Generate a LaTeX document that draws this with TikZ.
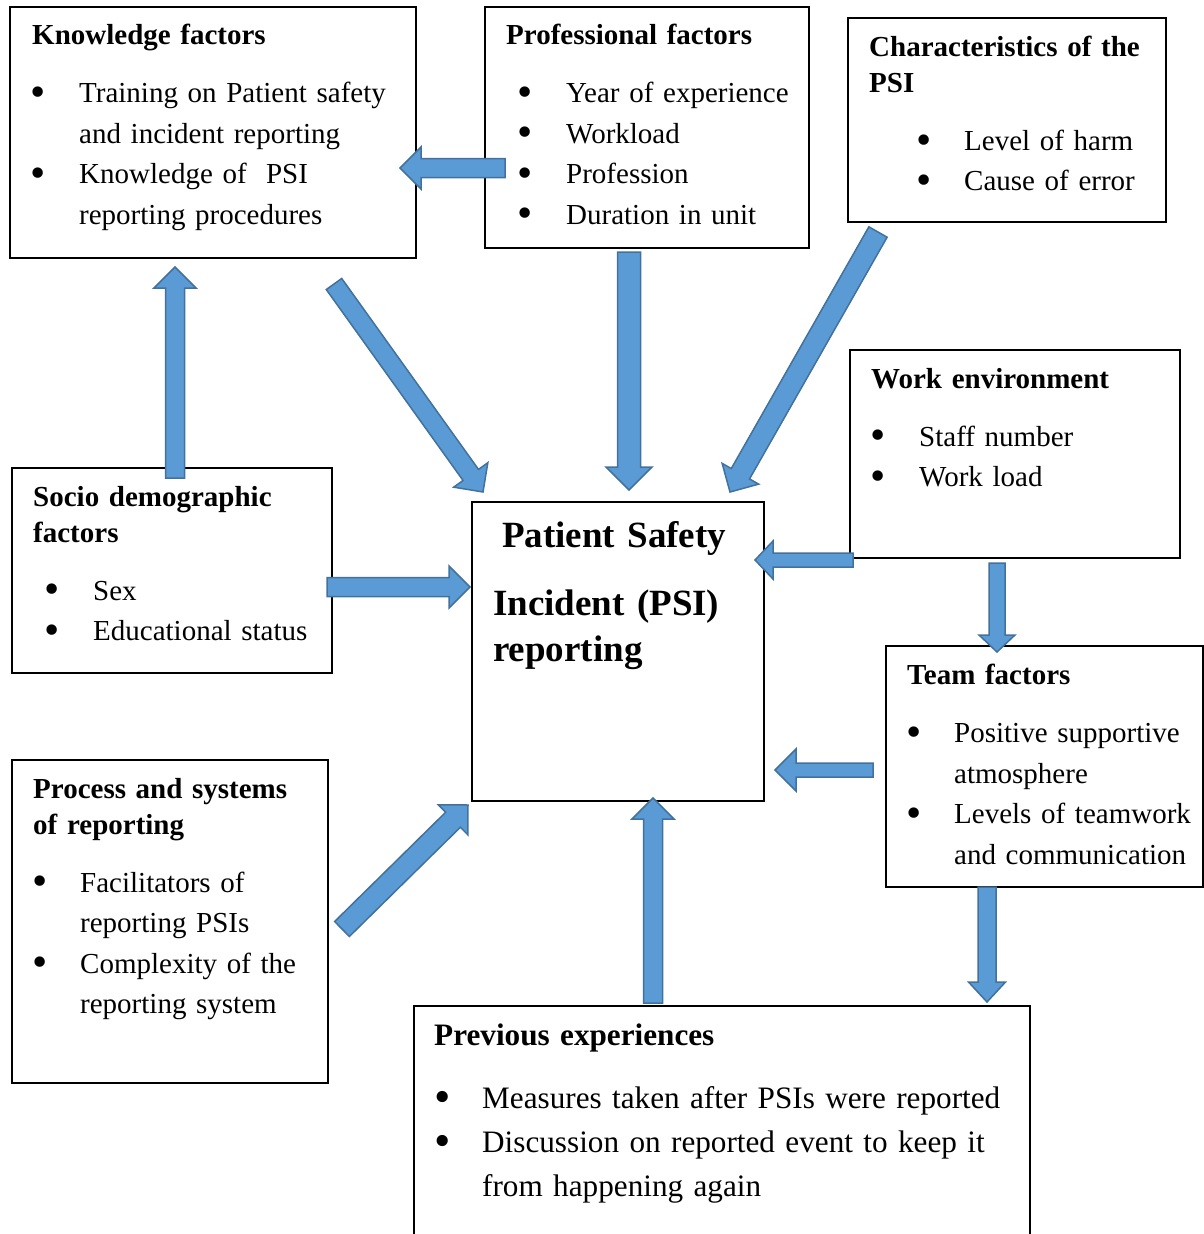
\documentclass[tikz,border=0pt]{standalone}
\usepackage{fontspec}
\setmainfont{Liberation Serif}
\usetikzlibrary{calc}

\definecolor{arrowfill}{HTML}{5B9BD5}
\definecolor{arrowline}{HTML}{41719C}

% heading of a factor box, bullet item (bullet offset, text offset, text), continued line
\newcommand{\hd}[1]{{\bfseries\baselineskip=1.24em\noindent\rule{0pt}{0.69em}#1\par}\vspace{0.6em}}
\newcommand{\bul}{\raisebox{-0.13em}{\scalebox{1.5}{\textbullet}}}
\newcommand{\li}[3]{\par\noindent\makebox[#2pt][l]{\hspace*{#1pt}\hspace*{-1.5pt}\bul}#3}
\newcommand{\lc}[2]{\par\noindent\hspace*{#1pt}#2}
% block arrow from tail to tip
\newcommand{\barrow}[3][]{%
  \path[blockarrow,#1] let \p1=#2, \p2=#3, \p3=($(\p2)!\alen!(\p1)$) in
    ($(\p1)!\ashaft!90:(\p2)$) -- ($(\p3)!\ashaft!90:(\p2)$) -- ($(\p3)!\ahead!90:(\p2)$) -- (\p2)
    -- ($(\p3)!\ahead!-90:(\p2)$) -- ($(\p3)!\ashaft!-90:(\p2)$) -- ($(\p1)!\ashaft!-90:(\p2)$) -- cycle;}

\begin{document}
\begin{tikzpicture}[x=1pt,y=-1pt]
  \tikzset{factor/.style={draw,line width=1.8pt,anchor=north west,outer sep=0pt,inner sep=0pt},
    txt/.style={anchor=north west,inner sep=0pt,text width=640pt,align=left,font=\fontsize{29}{40.5}\selectfont},
    ashaft/.store in=\ashaft, ahead/.store in=\ahead, alen/.store in=\alen,
    blockarrow/.style={draw=arrowline,fill=arrowfill,line width=1.5pt,line join=miter,
      ashaft=9.5pt,ahead=21pt,alen=21pt}}
  \clip (0,0) rectangle (1204,1234);

  % boxes
  \node[factor,minimum width=406,minimum height=251] (know)  at (10,7)    {};
  \node[factor,minimum width=324,minimum height=241] (prof)  at (485,7)   {};
  \node[factor,minimum width=318,minimum height=204] (chars) at (848,18)  {};
  \node[factor,minimum width=330,minimum height=208] (work)  at (850,350) {};
  \node[factor,minimum width=320,minimum height=205] (socio) at (12,468)  {};
  \node[factor,minimum width=292,minimum height=299] (psi)   at (472,502) {};
  \node[factor,minimum width=317,minimum height=241] (team)  at (886,646) {};
  \node[factor,minimum width=316,minimum height=323] (proc)  at (12,760)  {};
  \node[factor,minimum width=616,minimum height=260] (prev)  at (414,1006) {};

  % texts
  \node[txt] (knowtxt) at (32,24) {\hd{Knowledge factors}
    \li{0}{47}{Training on Patient safety}\lc{47}{and incident reporting}
    \li{0}{47}{Knowledge of\ \ PSI}\lc{47}{reporting procedures}};
  \node[txt] (proftxt) at (506,24) {\hd{Professional factors}
    \li{13}{60}{Year of experience}\li{13}{60}{Workload}
    \li{13}{60}{Profession}\li{13}{60}{Duration in unit}};
  \node[txt] (charstxt) at (869,36) {\hd{Characteristics of the\newline PSI}
    \li{49}{95}{Level of harm}\li{49}{95}{Cause of error}};
  \node[txt] (worktxt) at (871,368) {\hd{Work environment}
    \li{1}{48}{Staff number}\li{1}{48}{Work load}};
  \node[txt] (sociotxt) at (33,486) {\hd{Socio demographic\newline factors}
    \li{13}{60}{Sex}\li{13}{60}{Educational status}};
  \node[txt] (teamtxt) at (907,664) {\hd{Team factors}
    \li{1}{47}{Positive supportive}\lc{47}{atmosphere}
    \li{1}{47}{Levels of teamwork}\lc{47}{and communication}};
  \node[txt] (proctxt) at (33,778) {\hd{Process and systems\newline of reporting}
    \li{1}{47}{Facilitators of}\lc{47}{reporting PSIs}
    \li{1}{47}{Complexity of the}\lc{47}{reporting system}};
  \node[txt,font=\fontsize{31.2}{44}\selectfont] (prevtxt) at (434,1024) {\hd{Previous experiences}
    \li{2}{48}{Measures taken after PSIs were reported}
    \li{2}{48}{Discussion on reported event to keep it}\lc{48}{from happening again}};
  \node[txt,text width=280pt,font=\fontsize{37}{46}\selectfont\bfseries] (psitxt) at (493,521)
    {\noindent\rule{0pt}{26pt}\hspace*{9pt}Patient Safety\\[22pt]Incident (PSI)\\reporting};

  % arrows
  \barrow{([shift={(20,40.5)}]prof.west)}{([shift={(-16,35.5)}]know.east)}
  \barrow[ashaft=11.5pt,ahead=23pt,alen=23pt]{([shift={(-18,4)}]prof.south)}{([shift={(11,-12)}]psi.north)}
  \barrow{([shift={(-82,26)}]know.south east)}{([shift={(11,-10)}]psi.north west)}
  \barrow[ashaft=10.5pt]{([shift={(30,10)}]chars.south west)}{([shift={(-34,-10)}]psi.north east)}
  \barrow[ashaft=7pt,ahead=19pt,alen=18pt]{([shift={(3,2)}]work.south west)}{([shift={(-9,58)}]psi.north east)}
  \barrow[ashaft=8pt,ahead=18pt,alen=17pt]{([shift={(-18,5)}]work.south)}{([shift={(-47.5,6)}]team.north)}
  \barrow{([shift={(-5,16.5)}]socio.east)}{([shift={(-2,-64.5)}]psi.west)}
  \barrow{([shift={(3,10)}]socio.north)}{([shift={(-38,9)}]know.south)}
  \barrow[ashaft=10.5pt]{([shift={(14,7.5)}]proc.east)}{([shift={(-4,4)}]psi.south west)}
  \barrow{([shift={(239,-3)}]prev.north west)}{([shift={(35,-3)}]psi.south)}
  \barrow[ashaft=7pt]{([shift={(-13,3.5)}]team.west)}{([shift={(11,118.5)}]psi.east)}
  \barrow[ashaft=9pt,ahead=18.5pt,alen=20pt]{([shift={(-57.5,0)}]team.south)}{([shift={(-43,-4)}]prev.north east)}
\end{tikzpicture}
\end{document}
